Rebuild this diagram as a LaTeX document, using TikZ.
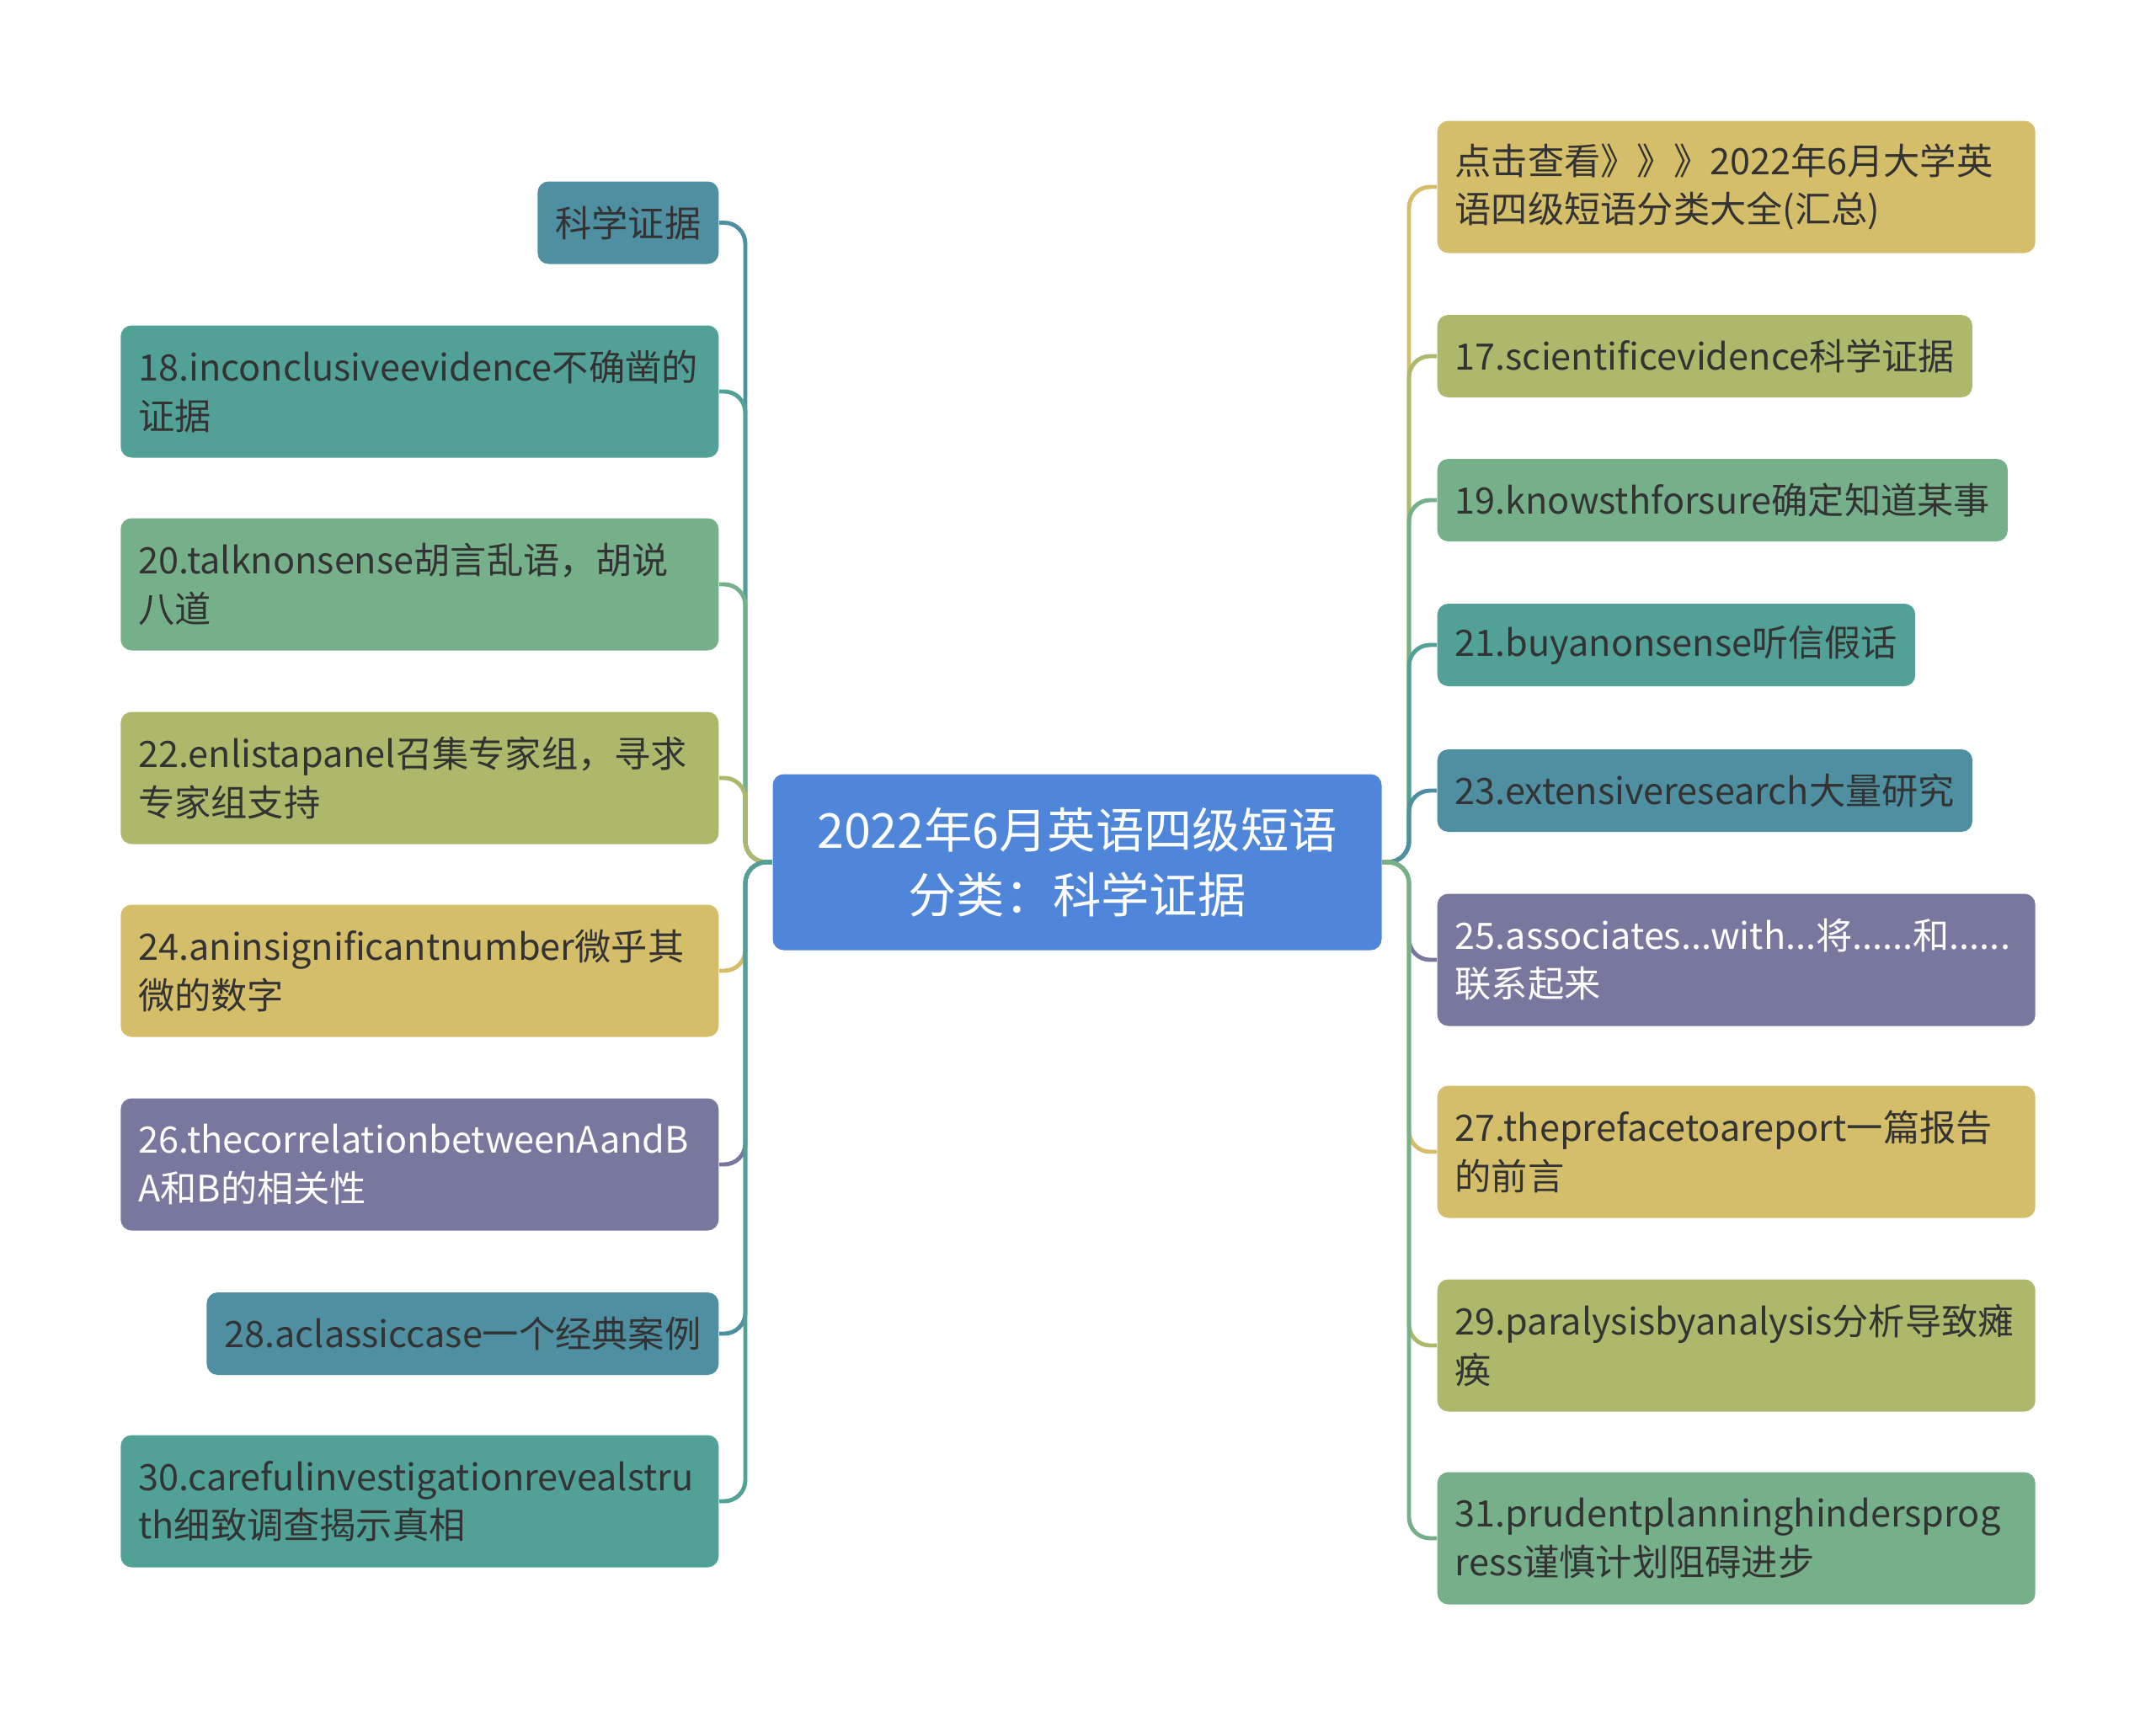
\documentclass[tikz,border=0pt]{standalone}
\usepackage{fontspec}
\setmainfont{Noto Sans CJK SC}
\usepackage{tikz}
\definecolor{rootblue}{RGB}{79,134,217}
\definecolor{slateteal}{RGB}{78,144,162}
\definecolor{seateal}{RGB}{82,161,150}
\definecolor{sagegreen}{RGB}{117,176,138}
\definecolor{leafolive}{RGB}{173,184,107}
\definecolor{leafgold}{RGB}{212,190,106}
\definecolor{leafpurple}{RGB}{120,120,158}
\definecolor{inkdark}{RGB}{51,51,51}

\begin{document}
\begin{tikzpicture}[x=1cm, y=-1cm,
    leaf/.style={rounded corners=0.13cm, minimum height=0.98cm, inner xsep=0.21cm,
        inner ysep=0.1cm, text=inkdark, align=left,
        font=\fontsize{12.3}{16.3}\selectfont},
    twoline/.style={leaf, minimum height=1.57cm, text width=6.68cm},
    topic/.style={rounded corners=0.13cm, fill=rootblue, text=white, align=center,
        minimum width=7.23cm, minimum height=2.09cm,
        font=\fontsize{16.3}{21.8}\selectfont},
    branch/.style={line width=1.4pt, rounded corners=0.25cm}]
    \useasboundingbox (0,0) rectangle (25.6,20.49);
    \node[topic] (mid) at (12.79, 10.24) {2022年6月英语四级短语\\分类：科学证据};
    \node[leaf, fill=slateteal, anchor=east] (l1) at (8.54, 2.645) {科学证据};
    \node[twoline, fill=seateal, anchor=east] (l2) at (8.54, 4.65) {18.inconclusiveevidence不确凿的\\证据};
    \node[twoline, fill=sagegreen, anchor=east] (l3) at (8.54, 6.94) {20.talknonsense胡言乱语，胡说\\八道};
    \node[twoline, fill=leafolive, anchor=east] (l4) at (8.54, 9.24) {22.enlistapanel召集专家组，寻求\\专家组支持};
    \node[twoline, fill=leafgold, anchor=east] (l5) at (8.54, 11.53) {24.aninsignificantnumber微乎其\\微的数字};
    \node[twoline, fill=leafpurple, text=white, anchor=east] (l6) at (8.54, 13.83) {26.thecorrelationbetweenAandB\\A和B的相关性};
    \node[leaf, fill=slateteal, anchor=east] (l7) at (8.54, 15.84) {28.aclassiccase一个经典案例};
    \node[twoline, fill=seateal, anchor=east] (l8) at (8.54, 17.83) {30.carefulinvestigationrevealstru\\th细致调查揭示真相};
    \node[twoline, fill=leafgold, anchor=west] (r1) at (17.06, 2.22) {点击查看》》》2022年6月大学英\\语四级短语分类大全(汇总)};
    \node[leaf, fill=leafolive, anchor=west] (r2) at (17.06, 4.23) {17.scientificevidence科学证据};
    \node[leaf, fill=sagegreen, anchor=west] (r3) at (17.06, 5.94) {19.knowsthforsure确定知道某事};
    \node[leaf, fill=seateal, anchor=west] (r4) at (17.06, 7.66) {21.buyanonsense听信假话};
    \node[leaf, fill=slateteal, anchor=west] (r5) at (17.06, 9.39) {23.extensiveresearch大量研究};
    \node[twoline, fill=leafpurple, text=white, anchor=west] (r6) at (17.06, 11.40) {25.associates...with...将......和......\\联系起来};
    \node[twoline, fill=leafgold, anchor=west] (r7) at (17.06, 13.68) {27.theprefacetoareport一篇报告\\的前言};
    \node[twoline, fill=leafolive, anchor=west] (r8) at (17.06, 15.98) {29.paralysisbyanalysis分析导致瘫\\痪};
    \node[twoline, fill=sagegreen, anchor=west] (r9) at (17.06, 18.27) {31.prudentplanninghindersprog\\ress谨慎计划阻碍进步};
    \coordinate (lj) at (8.85, 10.24);
    \coordinate (rj) at (16.73, 10.24);
    \draw[branch, slateteal] (mid.west) -- (lj) |- (l1.east);
    \draw[branch, seateal] (mid.west) -- (lj) |- (l2.east);
    \draw[branch, sagegreen] (mid.west) -- (lj) |- (l3.east);
    \draw[branch, leafolive] (mid.west) -- (lj) |- (l4.east);
    \draw[branch, leafgold] (mid.west) -- (lj) |- (l5.east);
    \draw[branch, leafpurple] (mid.west) -- (lj) |- (l6.east);
    \draw[branch, slateteal] (mid.west) -- (lj) |- (l7.east);
    \draw[branch, seateal] (mid.west) -- (lj) |- (l8.east);
    \draw[branch, leafgold] (mid.east) -- (rj) |- (r1.west);
    \draw[branch, leafolive] (mid.east) -- (rj) |- (r2.west);
    \draw[branch, sagegreen] (mid.east) -- (rj) |- (r3.west);
    \draw[branch, seateal] (mid.east) -- (rj) |- (r4.west);
    \draw[branch, slateteal] (mid.east) -- (rj) |- (r5.west);
    \draw[branch, leafpurple] (mid.east) -- (rj) |- (r6.west);
    \draw[branch, leafgold] (mid.east) -- (rj) |- (r7.west);
    \draw[branch, leafolive] (mid.east) -- (rj) |- (r8.west);
    \draw[branch, sagegreen] (mid.east) -- (rj) |- (r9.west);
\end{tikzpicture}
\end{document}
